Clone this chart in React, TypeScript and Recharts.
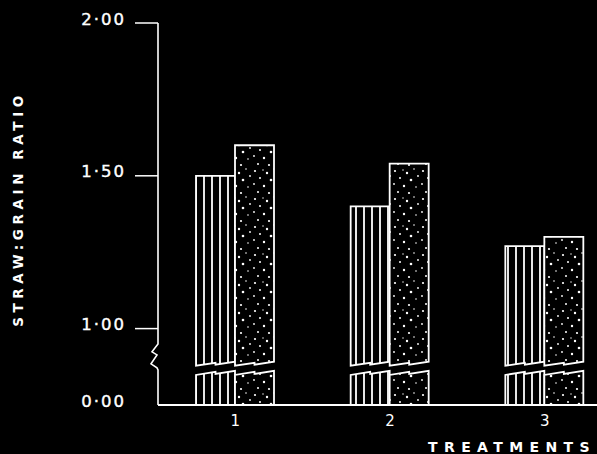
import React from 'react'
import { BarChart, Bar, XAxis, YAxis, ReferenceLine } from 'recharts'

// values (broken axis: the "0·00" baseline sits where 0.75 would be)
const TREATMENTS = ['1', '2', '3']
const HATCHED = [1.5, 1.4, 1.27]
const STIPPLED = [1.6, 1.54, 1.3]

const BASE = 0.75
const TICK_VALUES = [0.75, 1, 1.5, 2]
const TICK_LABELS = ['0·00', '1·00', '1·50', '2·00']
const BREAK_HI = 0.885
const BREAK_LO = 0.855

const DOTS = [
  [3, 3, 1.1], [15, 5, 1.2], [22, 1, 0.8], [8, 10, 1.0], [19, 12, 1.3],
  [2, 16, 0.9], [12, 18, 1.2], [24, 19, 0.8], [6, 24, 1.0], [17, 25, 1.1],
  [26, 8, 0.9], [11, 2, 0.7],
]

const rows = TREATMENTS.map((t, i) => ({ t, hatched: HATCHED[i], stippled: STIPPLED[i] }))

const WHITE = '#fff'
const FONT = '"DejaVu Sans", sans-serif'

function BrokenBar(p: any) {
  const { x, y, width: w, height: h, payload, k, fill } = p
  const v = payload[k]
  const bottom = y + h
  const px = h / (v - BASE)
  const hb = bottom - (BREAK_HI - BASE) * px
  const lb = bottom - (BREAK_LO - BASE) * px
  const m = x + w / 2
  const upper = `M${x},${y} H${x + w} V${hb - 2} L${m},${hb + 1} V${hb - 1} L${x},${hb + 2} Z`
  const lower = `M${x},${bottom} H${x + w} V${lb - 2} L${m},${lb + 1} V${lb - 1} L${x},${lb + 2} Z`
  return (
    <g>
      <path d={upper} fill={fill} stroke={WHITE} strokeWidth={1.8} />
      <path d={lower} fill={fill} stroke={WHITE} strokeWidth={1.8} />
    </g>
  )
}

function YTick({ x, y, payload }: any) {
  const i = TICK_VALUES.indexOf(payload.value)
  return (
    <g>
      {payload.value !== BASE && <line x1={x - 23} x2={x} y1={y} y2={y} stroke={WHITE} strokeWidth={1.5} />}
      <text x={x - 32} y={y - 3} textAnchor="end" dominantBaseline="middle" fill={WHITE}
        fontSize={16.5} fontFamily={FONT} letterSpacing={2} stroke={WHITE} strokeWidth={0.4}>{TICK_LABELS[i]}</text>
    </g>
  )
}

function AxisWithBreak({ x1, y1, y2 }: any) {
  const px = (y2 - y1) / (2 - BASE)
  const b = y2 - (0.95 - BASE) * px
  return (
    <path d={`M${x1},${y1} V${b} L${x1 - 6},${b + 8} L${x1 - 1},${b + 11} L${x1 - 7},${b + 20} L${x1 - 1},${b + 24} L${x1},${b + 26} V${y2}`}
      fill="none" stroke={WHITE} strokeWidth={1.6} />
  )
}

export default function App() {
  return (
    <div style={{ position: 'fixed', left: 0, top: 0, width: 597, height: 454, overflow: 'hidden', background: '#000' }}>
      <svg width={0} height={0} style={{ position: 'absolute' }}>
        <defs>
          <pattern id="stripes" patternUnits="userSpaceOnUse" width={8} height={8}>
            <rect width={8} height={8} fill="#000" />
            <line x1={4} x2={4} y1={0} y2={8} stroke={WHITE} strokeWidth={1.8} />
          </pattern>
          <pattern id="speckle" patternUnits="userSpaceOnUse" width={28} height={28}>
            <rect width={28} height={28} fill="#000" />
            {DOTS.map(([cx, cy, r], i) => <circle key={i} cx={cx} cy={cy} r={r} fill={WHITE} />)}
          </pattern>
        </defs>
      </svg>
      <BarChart width={622} height={454} data={rows} margin={{ top: 23, right: 0, left: 0, bottom: 19 }}
        barSize={39} barGap={0}>
        <XAxis dataKey="t" height={30} tickLine={false} axisLine={{ stroke: WHITE, strokeWidth: 2 }}
          tick={{ fill: WHITE, fontSize: 15, fontFamily: FONT }} tickMargin={4}
          label={(lp: any) => {
            const vb = lp.viewBox
            return <text x={vb.x + 270} y={vb.y + 47} fill={WHITE} fontSize={14} fontWeight="bold"
              fontFamily={FONT} letterSpacing={6.4}>TREATMENTS</text>
          }} />
        <YAxis type="number" domain={[BASE, 2]} ticks={TICK_VALUES} width={158} axisLine={false}
          tickLine={false} tickSize={0} tickMargin={0} tick={<YTick />} interval={0}
          label={(lp: any) => {
            const vb = lp.viewBox
            const cx = vb.x + 19
            const cy = vb.y + vb.height / 2 - 5
            return <text x={cx} y={cy} transform={`rotate(-90 ${cx} ${cy})`} textAnchor="middle"
              dominantBaseline="middle" fill={WHITE} fontSize={13.5} fontWeight="bold" fontFamily={FONT}
              letterSpacing={4.6}>STRAW:GRAIN RATIO</text>
          }} />
        <ReferenceLine segment={[{ x: '1', y: 2 }, { x: '1', y: BASE }]} position="start"
          shape={(sp: any) => <AxisWithBreak {...sp} />} />
        <Bar dataKey="hatched" isAnimationActive={false} fill="url(#stripes)"
          shape={(bp: any) => <BrokenBar {...bp} k="hatched" fill="url(#stripes)" />} />
        <Bar dataKey="stippled" isAnimationActive={false} fill="url(#speckle)"
          shape={(bp: any) => <BrokenBar {...bp} k="stippled" fill="url(#speckle)" />} />
      </BarChart>
    </div>
  )
}
